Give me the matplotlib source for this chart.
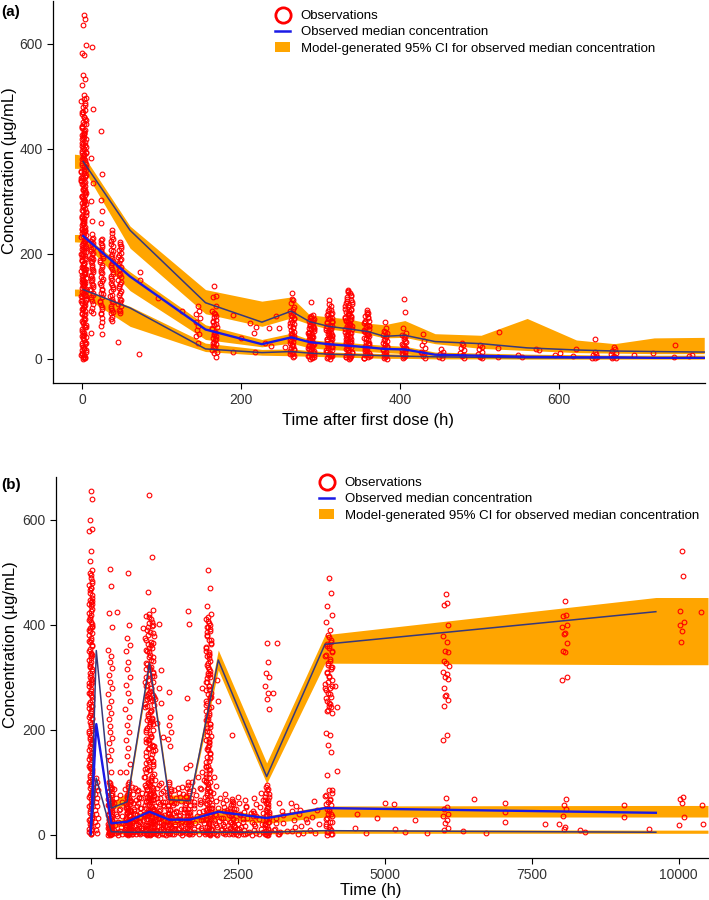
import matplotlib
matplotlib.use('Agg')
import matplotlib.pyplot as plt
from matplotlib.lines import Line2D
from matplotlib.patches import Patch

plt.rcParams['font.family'] = ['Liberation Sans', 'DejaVu Sans']

RED = '#FF0000'
ORANGE = '#FFA500'
DARK = '#38387A'
BLUE = '#1A1AE6'

# ---------------- panel (a): time after first dose ----------------
a_band_t = [-10, 1, 60, 155, 226, 263, 286, 310, 336, 360, 380, 406, 444, 502, 560, 622, 670, 720, 783]
a_up_hi = [390, 388, 253, 132, 110, 118, 84, 80, 76, 68, 65, 73, 48, 45, 77, 36, 29, 40, 41]
a_up_lo = [363, 363, 211, 86, 62, 78, 66, 57, 52, 47, 40, 41, 29, 20, 16, 12, 11, 10, 10]
a_md_hi = [237, 237, 166, 65, 37, 49, 37, 33, 31, 28, 26, 24, 13, 11, 9, 8, 7, 7, 7]
a_md_lo = [223, 222, 130, 37, 23, 30, 21, 18, 16, 14, 12, 10, 3, 1, 0, 0, 0, 0, 0]
a_lw_hi = [133, 133, 100, 30, 18, 19, 16, 13, 12, 11, 10, 9, 7, 5, 4, 4, 4, 4, 4]
a_lw_lo = [120, 120, 62, 14, 7, 6, 5, 4, 3, 2, 1, 1, 0, 0, 0, 0, 0, 0, 0]

a_line_t = [1, 60, 155, 226, 263, 286, 310, 336, 360, 380, 406, 444, 502, 560, 622, 670, 720, 783]
a_p95 = [376, 245, 107, 70, 91, 71, 62, 57, 52, 43, 45, 33, 29, 21, 17, 15, 14, 13]
a_p50 = [234, 157, 56, 28, 41, 32, 28, 25, 22, 19, 18, 8, 6, 4, 3, 3, 2, 2]
a_p05 = [132, 97, 19, 12, 14, 11, 9, 8, 7, 6, 5, 4, 3, 2, 2, 2, 2, 2]

# observation clusters: nominal time, spread of sampling times, concentrations
a_clu_t = [1.5, 12, 24, 37, 47, 145, 166, 264, 288, 311, 335, 358, 381, 405, 429, 452, 478, 501, 645, 669,
           1.5, 12, 24, 37, 47, 166, 264, 288, 311, 335, 358, 381, 405,
           1.5, 335, 311, 288, 358]
a_clu_sp = [3, 1.5, 1.5, 1.5, 2, 3, 3, 3, 4, 4, 4, 3.5, 3, 3, 3, 3, 3, 3, 4, 4,
            3, 2, 2, 2, 2, 3, 3, 4, 4, 5, 4, 3, 3,
            3, 5, 4, 4, 4]
a_clu_c = [
    [655, 648, 637, 598, 582, 579, 541, 533, 522, 503, 497, 491, 487, 480, 474, 466, 461, 452, 447, 440,
     434, 427, 422, 414, 409, 403, 396, 391, 386, 378, 373, 367, 360, 356, 349, 344, 337, 333, 326, 321,
     316, 308, 304, 297, 293, 286, 282, 275, 271, 263, 259, 252, 248, 241, 236, 232, 224, 220, 213, 209,
     203, 198, 191, 187, 180, 176, 169, 165, 158, 154, 147, 142, 138, 131, 127, 121, 114, 110, 103, 97,
     91, 85, 78, 71, 65, 57, 50, 43, 36, 29, 23, 16, 11, 7, 3, 1, 412, 388, 366, 344, 301, 262, 229,
     199, 173, 151, 133, 117, 460, 418, 355, 312, 244, 211, 188, 162, 145, 122, 470, 430, 395, 340],
    [595, 477, 382, 335, 301, 262, 237, 230, 224, 218, 212, 206, 200, 195, 190, 184, 178, 172, 166, 160,
     154, 148, 143, 137, 131, 126, 118, 110, 97, 88, 50],
    [435, 352, 302, 282, 259, 228, 221, 214, 207, 199, 192, 185, 178, 170, 163, 156, 149, 141, 134, 126,
     118, 111, 103, 95, 88, 78, 62, 48],
    [245, 232, 224, 216, 208, 200, 193, 186, 179, 172, 165, 158, 151, 144, 137, 130, 122, 115, 108, 101,
     94, 87, 80, 72],
    [222, 215, 208, 201, 195, 188, 182, 175, 169, 162, 156, 150, 143, 136, 129, 122, 115, 108, 101, 94, 87, 33],
    [100, 92, 85, 78, 70, 63, 55, 48, 43, 30],
    [138, 120, 118, 100, 92, 86, 80, 75, 70, 65, 60, 56, 52, 48, 44, 40, 36, 32, 28, 24, 20, 16, 11, 4],
    [125, 112, 106, 98, 92, 87, 82, 78, 74, 70, 66, 62, 58, 55, 52, 48, 45, 42, 39, 36, 33, 30, 27, 24,
     21, 18, 15, 12, 9, 6],
    [109, 84, 80, 76, 72, 68, 65, 62, 59, 56, 53, 50, 47, 44, 41, 38, 35, 32, 29, 26, 23, 20, 17, 14, 11,
     8, 5, 2, 0, 60, 45, 30, 15],
    [113, 100, 92, 88, 84, 80, 76, 72, 68, 65, 62, 59, 56, 53, 50, 47, 44, 41, 38, 35, 32, 29, 26, 23, 20,
     17, 14, 11, 8, 5, 2, 0, 70, 55, 40, 25, 10],
    [132, 125, 118, 112, 107, 102, 98, 94, 90, 86, 82, 78, 74, 70, 66, 62, 58, 54, 50, 46, 42, 38, 34, 30,
     26, 22, 18, 14, 10, 6, 3, 0, 95, 80, 65, 48, 35, 20, 8, 60],
    [94, 88, 82, 72, 68, 64, 60, 56, 52, 48, 44, 40, 36, 32, 28, 24, 20, 16, 12, 8, 4, 1, 50, 30, 15],
    [70, 58, 54, 50, 46, 42, 38, 34, 30, 26, 22, 18, 14, 10, 6, 2, 28, 12],
    [114, 90, 58, 49, 45, 41, 37, 33, 29, 25, 21, 17, 13, 9, 5, 1, 20],
    [48, 35, 26, 20, 14, 9, 5, 2, 12],
    [18, 14, 10, 7, 4, 2],
    [31, 26, 21, 16, 12, 8, 5, 2],
    [27, 22, 18, 14, 10, 6, 3, 1],
    [14, 10, 7, 4, 2, 1],
    [23, 19, 15, 12, 9, 6, 4, 2, 1],
    # second pass of sampling at the same nominal times
    [448, 437, 425, 419, 406, 399, 383, 376, 369, 362, 351, 339, 330, 324, 317, 310, 299, 289, 279, 273,
     266, 255, 249, 243, 234, 226, 217, 211, 205, 196, 189, 183, 172, 167, 161, 150, 144, 136, 129, 124,
     113, 107, 99, 95, 83, 76, 69, 61, 54, 46, 40, 33, 26, 19, 13, 8, 4, 0, 457, 444, 428, 401, 392, 381,
     358, 347, 335, 318, 306, 295, 284, 268, 257, 246, 239, 222, 216, 200, 193, 179, 171, 159, 149, 140,
     119, 112, 101, 88, 74, 60, 45, 31, 17, 2],
    [228, 221, 209, 202, 193, 186, 175, 169, 158, 151, 140, 134, 122, 115, 104, 92],
    [226, 217, 205, 196, 188, 175, 166, 152, 145, 131, 123, 108, 99, 85, 70],
    [240, 228, 219, 205, 196, 183, 175, 162, 154, 140, 133, 119, 111, 97, 90, 76],
    [218, 211, 198, 191, 179, 172, 159, 146, 139, 126, 112, 105, 91],
    [88, 82, 73, 67, 58, 50, 46, 38, 30, 22, 14],
    [115, 95, 84, 76, 68, 60, 50, 43, 35, 26, 17, 10, 3],
    [78, 70, 63, 57, 51, 43, 37, 31, 24, 18, 12, 6, 3],
    [96, 86, 78, 70, 63, 57, 49, 43, 37, 31, 22, 16, 7, 3],
    [128, 120, 110, 104, 96, 88, 84, 76, 72, 64, 56, 52, 44, 40, 32, 28, 24, 16, 12, 4, 1],
    [85, 78, 70, 62, 54, 46, 38, 26, 18, 10, 6, 2],
    [52, 44, 36, 24, 16, 8, 4, 0],
    [43, 35, 27, 19, 11, 7, 3],
    # third pass
    [496, 483, 471, 455, 442, 431, 420, 407, 393, 380, 371, 357, 346, 334, 322, 311, 302, 291, 280, 269,
     258, 247, 237, 225, 214, 204, 194, 182, 174, 163, 152, 141, 130, 119, 108, 96, 86, 73, 62, 52, 41,
     30, 20, 9],
    [130, 122, 115, 108, 100, 92, 86, 80, 74, 68, 62, 56, 50, 44, 38, 32, 26, 20, 14, 8, 3],
    [104, 94, 86, 78, 70, 62, 54, 46, 38, 30, 22, 14, 6],
    [82, 74, 66, 58, 50, 42, 34, 26, 18, 10, 4],
    [90, 80, 72, 63, 55, 47, 39, 31, 23, 15, 7, 1],
]
a_sc_t = [73, 73, 71, 95, 125, 190, 211, 219, 216, 235, 238, 217, 190, 244, 200, 248, 230, 255,
          525, 523, 523, 548, 553, 571, 575, 595, 601, 622, 618, 645, 695, 718, 746, 745, 764, 768]
a_sc_c = [166, 150, 10, 116, 92, 84, 68, 61, 50, 59, 24, 14, 13, 82, 40, 58, 30, 22,
          51, 21, 4, 8, 3, 19, 17, 8, 11, 18, 5, 37, 8, 11, 27, 3, 6, 8]

# ---------------- panel (b): time ----------------
b_band_t = [350, 620, 1000, 1335, 1689, 2170, 2993, 3985, 9613, 10500]
b_up_hi = [62, 80, 335, 76, 76, 352, 137, 381, 452, 452]
b_up_lo = [48, 58, 318, 60, 62, 314, 98, 327, 324, 324]
b_md_hi = [28, 31, 50, 35, 35, 50, 36, 55, 56, 56]
b_md_lo = [14, 17, 34, 20, 20, 30, 22, 34, 34, 34]
b_lw_hi = [9, 9, 9, 9, 9, 9, 9, 10, 9, 9]
b_lw_lo = [2, 2, 2, 2, 2, 2, 2, 3, 3, 3]

b_line_t = [0, 95, 350, 620, 1000, 1335, 1689, 2170, 2993, 3985, 9613]
b_p95 = [0, 351, 51, 63, 327, 67, 65, 333, 111, 363, 425]
b_p50 = [3, 211, 22, 25, 44, 29, 29, 44, 32, 51, 42]
b_p05 = [0, 108, 6, 5, 5, 5, 5, 5, 5, 8, 5]

b_clu_t = [0, 95, 330, 630, 760, 1000, 1160, 1340, 1480, 1650, 1820, 2000, 2200, 2400, 2650, 3000,
           3400, 4050, 6040, 8060, 10050,
           0, 1000, 2000, 330, 630, 4050, 3000,
           400, 500, 700, 800, 900, 1100, 1200, 1280, 1420, 1550, 1720, 1900, 2100, 2280, 2500,
           2620, 2780, 2900, 3200, 3500, 3800,
           1000, 2000, 0, 330, 630, 1340, 1650, 2400]
b_clu_sp = [30, 25, 35, 45, 100, 75, 80, 25, 70, 40, 70, 45, 80, 40, 150, 35, 300, 60, 50, 50, 40,
            30, 75, 45, 35, 40, 60, 40,
            45, 45, 45, 45, 45, 45, 45, 45, 45, 45, 45, 45, 45, 45, 45, 45, 45, 45, 90, 90, 90,
            75, 45, 30, 35, 45, 40, 50, 50]
b_clu_c = [
    [655, 640, 600, 583, 578, 540, 521, 505, 498, 489, 484, 475, 470, 461, 456, 448, 443, 435, 430, 422,
     418, 409, 405, 397, 393, 384, 380, 371, 367, 359, 354, 346, 342, 333, 329, 321, 316, 308, 304, 295,
     291, 283, 278, 270, 266, 257, 253, 245, 241, 232, 228, 220, 215, 207, 203, 194, 190, 182, 177, 169,
     165, 156, 152, 144, 139, 131, 127, 118, 114, 106, 101, 93, 89, 80, 76, 68, 63, 55, 51, 42, 38, 30,
     25, 17, 12, 6, 1],
    [108, 100, 92, 85, 78, 70, 62, 55, 48, 40, 32, 25, 18, 10, 4],
    [506, 474, 422, 396, 352, 341, 330, 318, 305, 292, 280, 268, 255, 244, 232, 220, 208, 196, 185, 174,
     162, 150, 143, 120, 100, 90, 82, 75, 68, 62, 56, 50, 44, 38, 33, 28, 23, 18, 14, 10, 7, 4, 2, 0,
     60, 35, 15, 5],
    [498, 400, 375, 362, 350, 330, 315, 300, 285, 270, 255, 240, 225, 210, 195, 180, 165, 150, 135, 120,
     100, 88, 78, 70, 64, 58, 52, 46, 41, 36, 31, 26, 22, 18, 14, 10, 6, 3, 1, 55, 30, 12],
    [90, 72, 60, 52, 45, 38, 32, 27, 22, 18, 14, 11, 8, 5, 3, 1, 66, 40, 25, 12, 84, 48, 30, 16, 6, 2],
    [648, 530, 463, 428, 416, 411, 403, 399, 391, 387, 379, 375, 367, 363, 355, 351, 343, 339, 331, 327,
     319, 315, 307, 303, 295, 291, 283, 279, 271, 267, 259, 255, 247, 243, 235, 231, 223, 219, 211, 207,
     199, 195, 187, 183, 175, 171, 163, 159, 151, 147, 139, 135, 127, 123, 115, 111, 103, 99, 91, 87,
     79, 75, 67, 63, 55, 51, 43, 39, 31, 27, 19, 15, 8, 3, 0, 95, 74, 56, 35, 14, 5, 85, 66, 46, 24,
     10, 2, 300, 260, 220, 180, 140],
    [95, 80, 70, 62, 55, 48, 42, 36, 30, 25, 20, 15, 11, 7, 4, 1, 58, 33, 18, 9, 251, 259, 279, 314,
     213, 187, 161],
    [273, 224, 210, 195, 182, 169, 100, 88, 78, 70, 62, 55, 48, 42, 36, 30, 25, 20, 15, 11, 7, 4, 1],
    [90, 72, 60, 50, 42, 35, 28, 22, 16, 11, 6, 2, 80, 45, 30, 12],
    [427, 402, 260, 133, 128, 100, 90, 80, 72, 64, 56, 49, 42, 36, 30, 24, 18, 13, 8, 4, 1, 60, 35, 20],
    [110, 90, 75, 62, 52, 44, 36, 28, 22, 16, 10, 5, 2],
    [505, 470, 436, 420, 412, 404, 396, 388, 380, 372, 364, 356, 348, 340, 332, 324, 316, 308, 300, 292,
     284, 276, 268, 260, 252, 244, 236, 228, 220, 212, 204, 196, 188, 180, 172, 164, 156, 148, 140, 132,
     124, 116, 108, 100, 92, 84, 76, 68, 60, 52, 44, 36, 28, 20, 12, 5, 1, 80, 40, 15, 3],
    [70, 60, 52, 45, 38, 32, 26, 20, 15, 10, 6, 2],
    [68, 62, 56, 50, 45, 40, 35, 30, 25, 20, 16, 12, 8, 4, 1],
    [55, 42, 30, 20, 12, 6, 2, 35, 15],
    [365, 330, 308, 301, 284, 271, 258, 239, 92, 85, 78, 72, 66, 60, 54, 48, 43, 38, 33, 28, 24, 20, 16,
     12, 8, 5, 2, 0],
    [60, 48, 38, 30, 22, 15, 8, 3, 1, 45, 25, 10],
    [489, 460, 435, 419, 406, 390, 381, 372, 364, 356, 348, 340, 332, 324, 316, 308, 300, 292, 284, 276,
     268, 260, 252, 244, 236, 232, 194, 190, 171, 158, 114, 86, 80, 74, 68, 62, 56, 50, 45, 40, 35, 30,
     25, 20, 15, 10, 6, 2],
    [458, 441, 438, 400, 378, 367, 351, 348, 331, 328, 321, 310, 306, 300, 297, 279, 267, 264, 256, 246,
     190, 181, 70, 54, 50, 40, 35, 29, 23, 13, 10],
    [446, 419, 416, 400, 396, 385, 383, 365, 351, 348, 300, 295, 69, 57, 49, 36, 15, 12],
    [540, 493, 427, 406, 399, 389, 368, 72, 68, 61, 34, 18],
    # second pass of sampling in the dense columns
    [495, 480, 466, 452, 439, 426, 412, 401, 388, 375, 362, 350, 337, 325, 312, 300, 287, 274, 262, 249,
     236, 224, 211, 199, 186, 173, 161, 148, 135, 122, 110, 97, 84, 72, 59, 46, 34, 21, 9, 2, 445, 390,
     340, 290, 235, 180, 128, 75, 28, 4],
    [420, 405, 396, 384, 372, 361, 349, 338, 326, 315, 303, 292, 280, 269, 257, 246, 234, 223, 211, 200,
     188, 177, 165, 154, 142, 131, 119, 108, 96, 85, 73, 62, 50, 39, 28, 18, 9, 3, 0, 2, 6, 12, 20, 30,
     41, 53, 67, 80, 92, 104, 356, 310, 265, 215, 170, 125, 77, 44, 22, 1],
    [415, 400, 386, 371, 357, 342, 328, 313, 299, 284, 270, 255, 241, 226, 212, 197, 183, 168, 154, 139,
     125, 110, 96, 81, 67, 52, 38, 23, 9, 1, 4, 14, 30, 47, 62, 88, 101, 395, 345, 305, 262, 218, 176, 130],
    [98, 92, 84, 76, 69, 61, 54, 47, 40, 33, 27, 21, 16, 11, 7, 3, 1, 0, 80, 58],
    [97, 86, 76, 67, 59, 51, 44, 38, 32, 26, 20, 15, 10, 6, 3, 1, 0, 72, 48, 25],
    [376, 368, 359, 351, 343, 335, 327, 319, 311, 303, 295, 287, 279, 271, 262, 254, 246, 238, 86, 76,
     67, 58, 49, 40, 32, 24, 17, 11, 6, 2, 0, 360, 320, 280, 250],
    [95, 88, 80, 73, 66, 58, 51, 44, 37, 30, 24, 18, 12, 7, 3, 1, 0, 62, 40, 20],
    # low concentrations between the dense columns
    [88, 70, 55, 40, 28, 18, 9, 3, 1, 60, 35, 12],
    [75, 62, 48, 36, 25, 15, 7, 2, 0, 50, 22, 5],
    [92, 78, 64, 50, 38, 26, 16, 8, 3, 1, 45, 20],
    [85, 70, 55, 42, 30, 20, 12, 5, 1, 60, 33, 10],
    [110, 95, 80, 65, 52, 40, 29, 19, 10, 4, 1, 70, 36, 14],
    [105, 90, 76, 62, 50, 38, 27, 17, 9, 3, 0, 68, 44, 21],
    [98, 84, 70, 57, 45, 34, 24, 15, 7, 2, 55, 30],
    [90, 76, 62, 49, 37, 26, 16, 8, 2, 0, 41, 12],
    [85, 70, 57, 44, 32, 21, 12, 5, 1, 60, 28],
    [92, 78, 64, 50, 38, 27, 17, 9, 3, 0, 44, 14],
    [100, 85, 70, 56, 43, 31, 20, 11, 4, 1, 62, 26],
    [120, 104, 88, 73, 59, 46, 34, 23, 13, 5, 1, 66, 29],
    [110, 94, 79, 65, 51, 39, 28, 18, 9, 3, 0, 57, 22],
    [78, 66, 54, 43, 33, 24, 16, 9, 3, 1, 47, 12],
    [72, 60, 49, 38, 29, 20, 12, 6, 2, 0, 40, 15],
    [66, 54, 43, 33, 24, 16, 9, 4, 1],
    [70, 58, 46, 35, 25, 16, 9, 3, 0, 42],
    [80, 66, 53, 41, 30, 20, 11, 5, 1],
    [60, 45, 33, 22, 12, 5, 1],
    [55, 40, 28, 17, 8, 2],
    [65, 48, 34, 20, 10, 3],
    # third pass in the densest columns
    [414, 398, 380, 366, 352, 333, 320, 308, 286, 274, 262, 250, 238, 227, 216, 204, 193, 181, 169, 158,
     146, 136, 124, 113, 101, 89, 78, 66, 57, 46, 35, 24, 15, 7, 1, 48, 34, 17, 4, 70],
    [408, 392, 378, 365, 350, 336, 320, 306, 291, 277, 262, 248, 233, 219, 205, 190, 176, 161, 147, 132,
     118, 103, 90, 74, 58, 44, 30, 17, 6, 0, 50, 26, 11],
    [470, 440, 415, 395, 370, 345, 320, 296, 270, 246, 222, 198, 175, 150, 126, 102, 80, 56, 33, 12],
    [95, 87, 73, 65, 57, 50, 43, 36, 30, 24, 19, 13, 9, 5, 2],
    [92, 81, 71, 62, 54, 47, 41, 35, 29, 23, 17, 12, 8, 4, 2],
    [96, 84, 73, 64, 56, 47, 39, 32, 26, 19, 13, 8, 3],
    [95, 84, 74, 65, 57, 50, 43, 37, 31, 25, 19, 14, 9, 5, 2],
    [65, 58, 51, 44, 37, 31, 25, 19, 14, 9, 5, 2],
]
b_sc_t = [441, 498, 895, 1167, 1887, 2142, 2170, 2398, 3163, 3095, 4184, 4194, 4155,
          4524, 4495, 4682, 4864, 5005, 5158, 5175, 5345, 5515, 5714, 6338, 6525, 6718, 7046, 7046,
          7046, 7726, 7964, 8321, 8400, 9070, 9070, 9500, 10381, 10398, 10420]
b_sc_c = [425, 120, 394, 402, 279, 295, 255, 190, 365, 271, 121, 244, 284,
          39, 13, 4, 33, 60, 59, 11, 6, 29, 4, 8, 69, 3, 60, 44, 25, 20, 21, 10, 6, 57, 34, 11,
          425, 57, 20]

# typed offsets (fraction of cluster spread) for sampling times within a cluster
JIT = [0.0, 0.55, -0.45, 0.85, -0.8, 0.25, -0.2, 0.7, -0.65, 0.1, 0.95, -0.95, 0.4, -0.3, 0.6,
       -0.55, 0.15, -0.1, 0.8, -0.7, 0.35, -0.85]


def expand(clu_t, clu_sp, clu_c, sc_t, sc_c):
    xs, ys = [], []
    for t, sp, vals in zip(clu_t, clu_sp, clu_c):
        for i, v in enumerate(vals):
            xs.append(t + sp * JIT[i % len(JIT)])
            ys.append(v)
    return xs + list(sc_t), ys + list(sc_c)


def draw_panel(ax, band_t, bands, line_t, p95, p50, p05, obs):
    for lo, hi in bands:
        ax.fill_between(band_t, lo, hi, color=ORANGE, lw=0, zorder=1)
    ax.plot(obs[0], obs[1], ls='none', marker='o', mfc='none', mec=RED, ms=3.4, mew=0.8, zorder=2)
    ax.plot(line_t, p95, color=DARK, lw=1.1, zorder=3)
    ax.plot(line_t, p05, color=DARK, lw=1.1, zorder=3)
    ax.plot(line_t, p50, color=BLUE, lw=1.7, zorder=3)
    for s in ['top', 'right']:
        ax.spines[s].set_visible(False)
    for s in ['left', 'bottom']:
        ax.spines[s].set_linewidth(0.9)
    ax.tick_params(length=4, width=0.8, labelsize=10, labelcolor='#333333')


def add_legend(ax, fig, x, y):
    handles = [Line2D([], [], ls='none', marker='o', mfc='none', mec=RED, ms=11, mew=2),
               Line2D([], [], color=BLUE, lw=1.8),
               Patch(facecolor=ORANGE, edgecolor='none')]
    labels = ['Observations', 'Observed median concentration',
              'Model-generated 95% CI for observed median concentration']
    ax.legend(handles, labels, loc='upper left', bbox_to_anchor=(x / 709, 1 - y / 900),
              bbox_transform=fig.transFigure, frameon=False, fontsize=9.5, handlelength=1.15,
              handletextpad=0.8, labelspacing=0.3, borderpad=0, borderaxespad=0)


fig = plt.figure(figsize=(7.09, 9.0), dpi=100)

ax_a = fig.add_axes([0.0748, 0.5744, 0.9196, 0.4246])
draw_panel(ax_a, a_band_t, [(a_up_lo, a_up_hi), (a_md_lo, a_md_hi), (a_lw_lo, a_lw_hi)],
           a_line_t, a_p95, a_p50, a_p05, expand(a_clu_t, a_clu_sp, a_clu_c, a_sc_t, a_sc_c))
ax_a.set_xlim(-37, 784)
ax_a.set_ylim(-46, 682)
ax_a.set_xticks([0, 200, 400, 600])
ax_a.set_yticks([0, 200, 400, 600])
add_legend(ax_a, fig, 275, 10)

ax_b = fig.add_axes([0.079, 0.0467, 0.919, 0.4236])
draw_panel(ax_b, b_band_t, [(b_up_lo, b_up_hi), (b_md_lo, b_md_hi), (b_lw_lo, b_lw_hi)],
           b_line_t, b_p95, b_p50, b_p05, expand(b_clu_t, b_clu_sp, b_clu_c, b_sc_t, b_sc_c))
ax_b.set_xlim(-590, 10493)
ax_b.set_ylim(-44, 682)
ax_b.set_xticks([0, 2500, 5000, 7500, 10000])
ax_b.set_yticks([0, 200, 400, 600])
add_legend(ax_b, fig, 319, 477)

# axis titles and panel tags
fig.text(368 / 709, 1 - 420 / 900, 'Time after first dose (h)', ha='center', va='center', fontsize=12)
fig.text(10 / 709, 1 - 171 / 900, 'Concentration (\u00b5g/mL)', ha='center', va='center',
         rotation=90, fontsize=12)
fig.text(371 / 709, 1 - 891 / 900, 'Time (h)', ha='center', va='center', fontsize=12)
fig.text(11 / 709, 1 - 645 / 900, 'Concentration (\u00b5g/mL)', ha='center', va='center',
         rotation=90, fontsize=12)
fig.text(1 / 709, 1 - 12 / 900, '(a)', ha='left', va='center', fontsize=11, fontweight='bold')
fig.text(1 / 709, 1 - 485 / 900, '(b)', ha='left', va='center', fontsize=11, fontweight='bold')

fig.savefig('out.png', dpi=100)
